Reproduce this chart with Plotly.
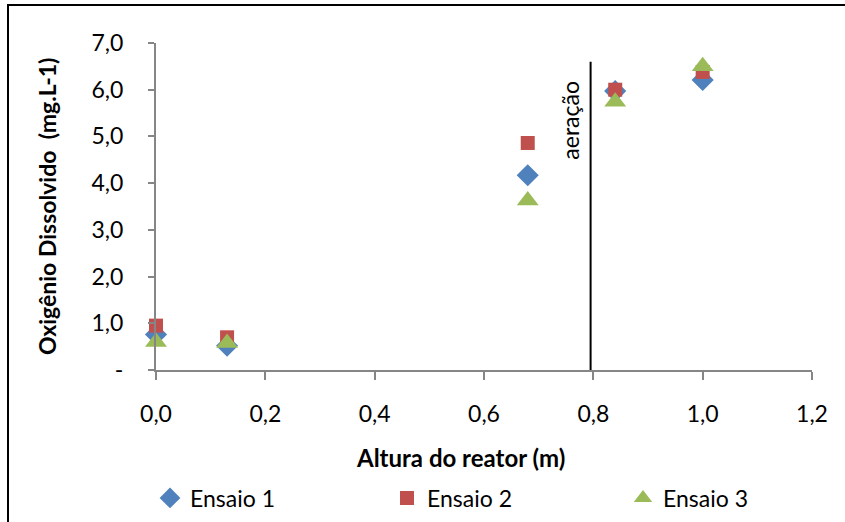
import plotly.graph_objects as go

# Data
altura = [0.0, 0.13, 0.68, 0.84, 1.0]
ensaio1 = [0.76, 0.52, 4.17, 5.97, 6.21]
ensaio2 = [0.95, 0.70, 4.86, 6.00, 6.38]
ensaio3 = [0.60, 0.58, 3.63, 5.74, 6.50]
series_names = ["Ensaio 1", "Ensaio 2", "Ensaio 3"]

x_tickvals = [0.0, 0.2, 0.4, 0.6, 0.8, 1.0, 1.2]
x_ticktext = ["0,0", "0,2", "0,4", "0,6", "0,8", "1,0", "1,2"]
y_tickvals = [0, 1, 2, 3, 4, 5, 6, 7]
y_ticktext = ["-", "1,0", "2,0", "3,0", "4,0", "5,0", "6,0", "7,0"]

aeracao_x = 0.795
aeracao_top = 6.6
aeracao_label = "aeração"

FONT = "Lato"
FS = 23
axis_color = "#868686"

# plot area in pixels (for paper conversions)
PL, PR, PT, PB = 156, 812, 43, 370
def px(xp):
    return (xp - PL) / (PR - PL)
def py(yp):
    return (PB - yp) / (PB - PT)

fig = go.Figure()
fig.add_trace(go.Scatter(x=altura, y=ensaio1, mode="markers", name=series_names[0], legend="legend",
                         cliponaxis=False,
                         marker=dict(symbol="diamond", size=17, color="#4F81BD")))
fig.add_trace(go.Scatter(x=altura, y=ensaio2, mode="markers", name=series_names[1], legend="legend2",
                         cliponaxis=False,
                         marker=dict(symbol="square", size=14, color="#C0504D")))
fig.add_trace(go.Scatter(x=altura, y=ensaio3, mode="markers", name=series_names[2], legend="legend3",
                         cliponaxis=False,
                         marker=dict(symbol="triangle-up", size=19, color="#9BBB59")))

fig.add_shape(type="line", xref="x", yref="y", x0=aeracao_x, x1=aeracao_x, y0=0, y1=aeracao_top,
              line=dict(color="black", width=2))
fig.add_annotation(x=aeracao_x, y=5.35, xref="x", yref="y", text=aeracao_label, textangle=-90,
                   showarrow=False, xanchor="right", yanchor="middle", xshift=-5,
                   font=dict(family=FONT, size=FS, color="black"))

# outer chart border (clipped at right/bottom in reference)
fig.add_shape(type="rect", xref="paper", yref="paper", x0=px(8), x1=px(900), y0=py(600), y1=py(5),
              line=dict(color="black", width=2), layer="below")

fig.add_annotation(xref="paper", yref="paper", x=px(460), y=py(457),
                   xanchor="center", yanchor="middle",
                   text="<b>Altura do reator (m)</b>", showarrow=False,
                   font=dict(family=FONT, size=24, color="black"))
fig.add_annotation(xref="paper", yref="paper", x=px(47), y=py(207),
                   xanchor="center", yanchor="middle",
                   text="<b>Oxigênio Dissolvido  (mg.L-1)</b>", showarrow=False, textangle=-90,
                   font=dict(family=FONT, size=FS, color="black"))

fig.update_xaxes(range=[0, 1.2], tickvals=x_tickvals, ticktext=x_ticktext,
                 showline=True, linecolor=axis_color, linewidth=2, ticks="outside",
                 tickcolor=axis_color, tickwidth=2, ticklen=8, showgrid=False, zeroline=False,
                 ticklabelstandoff=14,
                 tickfont=dict(family=FONT, size=FS, color="black"))
fig.update_yaxes(range=[0, 7], tickvals=y_tickvals, ticktext=y_ticktext,
                 showline=True, linecolor=axis_color, linewidth=2, ticks="outside",
                 tickcolor=axis_color, tickwidth=2, ticklen=6, showgrid=False, zeroline=False,
                 ticklabelstandoff=20,
                 tickfont=dict(family=FONT, size=FS, color="black"))

leg_common = dict(orientation="h", xanchor="left", yanchor="middle", y=py(498),
                  bgcolor="rgba(0,0,0,0)", font=dict(family=FONT, size=FS, color="black"))
fig.update_layout(
    width=845, height=522,
    margin=dict(l=PL, r=845 - PR, t=PT, b=522 - PB, autoexpand=False),
    plot_bgcolor="white", paper_bgcolor="white",
    showlegend=True,
    legend=dict(x=px(150), **leg_common),
    legend2=dict(x=px(387), **leg_common),
    legend3=dict(x=px(623), **leg_common),
)

fig.write_html("out.html")
